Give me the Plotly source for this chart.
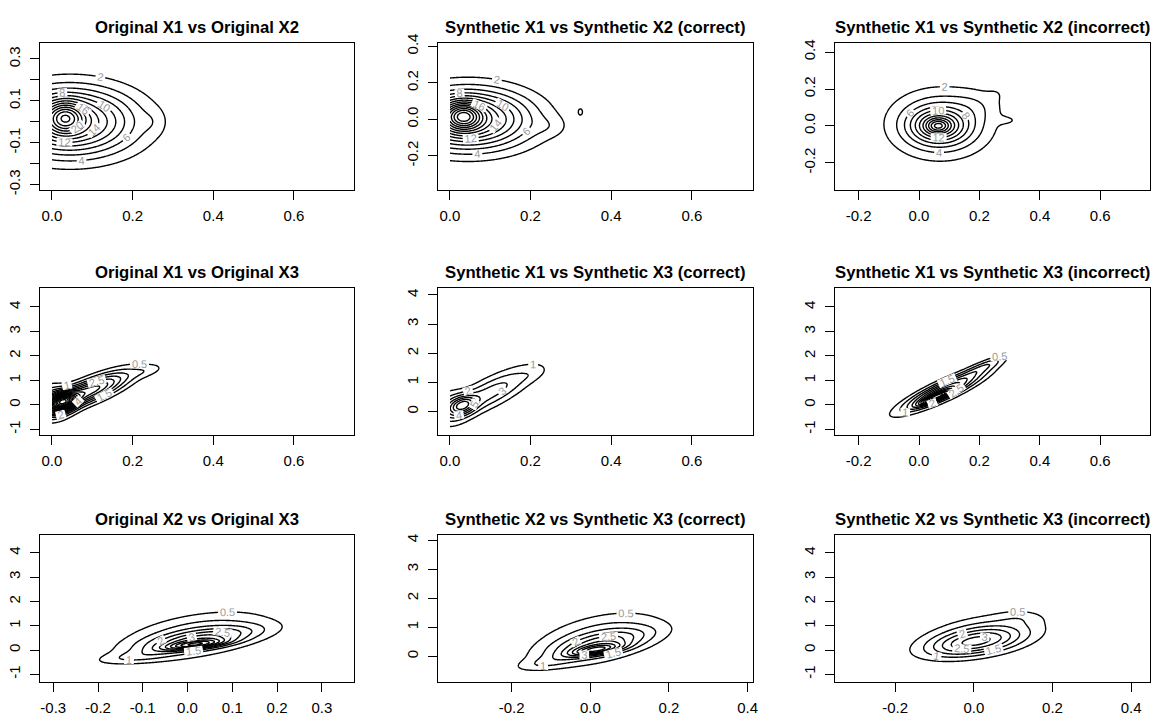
import numpy as np
import plotly.graph_objects as go

titles = [
    "Original X1 vs Original X2", "Synthetic X1 vs Synthetic X2 (correct)", "Synthetic X1 vs Synthetic X2 (incorrect)",
    "Original X1 vs Original X3", "Synthetic X1 vs Synthetic X3 (correct)", "Synthetic X1 vs Synthetic X3 (incorrect)",
    "Original X2 vs Original X3", "Synthetic X2 vs Synthetic X3 (correct)", "Synthetic X2 vs Synthetic X3 (incorrect)",
]

# density bumps: (height, x centre, y centre, x spread, y spread, correlation)
p1_bumps = [(10, 0.032, 0.020, 0.030, 0.050, 0.0), (17, 0.045, 0.000, 0.110, 0.110, 0.0),
            (1.0, 0.250, 0.000, 0.020, 0.040, 0.0)]
p2_bumps = [(12, 0.033, 0.018, 0.030, 0.050, 0.0), (18, 0.045, 0.000, 0.105, 0.110, 0.0),
            (1.3, 0.250, -0.040, 0.030, 0.040, 0.0), (2.15, 0.324, 0.041, 0.006, 0.020, 0.0)]
p3_bumps = [(6, 0.063, 0.000, 0.025, 0.025, 0.0), (9, 0.065, 0.000, 0.060, 0.060, 0.0),
            (8, 0.070, 0.010, 0.110, 0.120, 0.0), (1.5, 0.200, 0.120, 0.060, 0.060, 0.0),
            (1.2, 0.300, 0.030, 0.030, 0.020, 0.0), (0.8, 0.260, 0.180, 0.025, 0.030, 0.0)]
p4_bumps = [(5, 0.028, 0.13, 0.022, 0.25, 0.3), (3.8, 0.090, 0.55, 0.070, 0.55, 0.8),
            (2.0, 0.000, 0.10, 0.030, 0.45, 0.0), (0.5, 0.240, 1.40, 0.030, 0.20, 0.5)]
p5_bumps = [(4.5, 0.033, 0.22, 0.022, 0.22, 0.3), (3.5, 0.100, 0.65, 0.075, 0.60, 0.8),
            (2.0, 0.000, 0.15, 0.030, 0.40, 0.0), (0.5, 0.210, 1.30, 0.025, 0.20, 0.5)]
p6_bumps = [(3.5, 0.057, 0.32, 0.035, 0.20, 0.88), (3.5, 0.080, 0.58, 0.090, 0.55, 0.88),
            (1.0, 0.220, 1.60, 0.050, 0.30, 0.85)]
p7_bumps = [(2.6, 0.018, 0.22, 0.045, 0.14, 0.6), (1.8, 0.030, 0.45, 0.085, 0.33, 0.65),
            (1.5, 0.020, 0.60, 0.110, 0.65, 0.45), (0.7, -0.120, -0.30, 0.060, 0.20, 0.5)]
p8_bumps = [(2.5, 0.015, 0.22, 0.045, 0.14, 0.6), (1.6, 0.030, 0.45, 0.085, 0.33, 0.65),
            (1.4, 0.020, 0.60, 0.110, 0.62, 0.45), (0.6, -0.120, -0.25, 0.050, 0.18, 0.5)]
p9_bumps = [(2.0, 0.000, 0.30, 0.080, 0.38, 0.45), (1.4, 0.020, 0.60, 0.100, 0.58, 0.4),
            (0.35, 0.120, 1.35, 0.040, 0.20, 0.0)]
panel_bumps = [p1_bumps, p2_bumps, p3_bumps, p4_bumps, p5_bumps, p6_bumps, p7_bumps, p8_bumps, p9_bumps]

contour_step = [2, 2, 2, 0.5, 1, 0.5, 0.5, 0.5, 0.5]

# extent of the estimated density grid (data range)
kde_x_lims = [(0.0, 0.72), (0.0, 0.72), (-0.24, 0.72), (0.0, 0.72), (0.0, 0.72), (-0.24, 0.72),
              (-0.3, 0.35), (-0.36, 0.40), (-0.33, 0.43)]
kde_y_lims = [(-0.33, 0.37), (-0.38, 0.41), (-0.34, 0.44), (-1.2, 4.7), (-0.8, 4.2), (-1.2, 4.7),
              (-1.3, 4.7), (-0.88, 4.19), (-1.3, 4.7)]

x_axis_range = [(-0.03, 0.75), (-0.029, 0.751), (-0.277, 0.765), (-0.03, 0.75), (-0.029, 0.751), (-0.277, 0.765),
                (-0.33, 0.373), (-0.387, 0.413), (-0.352, 0.448)]
y_axis_range = [(-0.327, 0.375), (-0.3875, 0.416), (-0.349, 0.448), (-1.23, 4.77), (-0.807, 4.235), (-1.23, 4.77),
                (-1.31, 4.74), (-0.88, 4.19), (-1.31, 4.74)]

x_ticks_a = [0.0, 0.2, 0.4, 0.6]
x_ticks_b = [-0.2, 0.0, 0.2, 0.4, 0.6]
x_ticks_c = [-0.3, -0.2, -0.1, 0.0, 0.1, 0.2, 0.3]
x_ticks_d = [-0.2, 0.0, 0.2, 0.4]
x_tick_values = [x_ticks_a, x_ticks_a, x_ticks_b, x_ticks_a, x_ticks_a, x_ticks_b, x_ticks_c, x_ticks_d, x_ticks_d]

y_ticks_p1 = [-0.3, -0.2, -0.1, 0.0, 0.1, 0.2, 0.3]
y_labels_p1 = ["-0.3", "", "-0.1", "", "0.1", "", "0.3"]
y_ticks_small = [-0.2, 0.0, 0.2, 0.4]
y_ticks_wide = [-1, 0, 1, 2, 3, 4]
y_ticks_pos = [0, 1, 2, 3, 4]
y_tick_values = [y_ticks_p1, y_ticks_small, y_ticks_small, y_ticks_wide, y_ticks_pos, y_ticks_wide,
                 y_ticks_wide, y_ticks_pos, y_ticks_wide]

# ---------------- layout geometry (pixels) ----------------
W, H = 1164, 726
col_left = [40, 440, 839]
col_right = [356, 756, 1155]
row_top = [34, 284, 536]
row_bottom = [184, 434, 686]

FONT = "Liberation Sans, Arial, Helvetica, sans-serif"


def density(bumps, xs, ys):
    X, Y = np.meshgrid(xs, ys)
    Z = np.zeros_like(X)
    for h, mx, my, sx, sy, r in bumps:
        a = (X - mx) / sx
        b = (Y - my) / sy
        q = (a * a - 2 * r * a * b + b * b) / (1 - r * r)
        Z += h * np.exp(-0.5 * q)
    return Z


def fmt(v):
    s = f"{v:.1f}"
    return "0.0" if s == "-0.0" else s


fig = go.Figure()
annotations = []
for i in range(9):
    r, c = divmod(i, 3)
    k = i + 1
    xs = np.linspace(*kde_x_lims[i], 280)
    ys = np.linspace(*kde_y_lims[i], 280)
    Z = density(panel_bumps[i], xs, ys)
    step = contour_step[i]
    fig.add_trace(go.Contour(
        x=xs, y=ys, z=Z,
        xaxis=f"x{k}", yaxis=f"y{k}",
        autocontour=False,
        contours=dict(start=step, end=float(Z.max()), size=step, coloring="none",
                      showlabels=True, labelfont=dict(family=FONT, size=11, color="#9a9a9a")),
        line=dict(color="black", width=1.4, smoothing=1.0),
        showscale=False, hoverinfo="skip",
    ))
    xd = [col_left[c] / W, col_right[c] / W]
    yd = [1 - row_bottom[r] / H, 1 - row_top[r] / H]
    xt = x_tick_values[i]
    yt = y_tick_values[i]
    if i == 0:
        ytxt = y_labels_p1
    elif isinstance(yt[0], int):
        ytxt = [str(v) for v in yt]
    else:
        ytxt = [fmt(v) for v in yt]
    axcommon = dict(showgrid=False, zeroline=False, showline=True, mirror=True, linecolor="black",
                    linewidth=1, ticks="outside", ticklen=9, tickwidth=1, tickcolor="black",
                    tickfont=dict(family=FONT, size=15, color="black"))
    fig.layout[f"xaxis{k}"] = dict(domain=xd, anchor=f"y{k}", range=list(x_axis_range[i]),
                                   tickvals=xt, ticktext=[fmt(v) for v in xt], ticklabelstandoff=3, **axcommon)
    fig.layout[f"yaxis{k}"] = dict(domain=yd, anchor=f"x{k}", range=list(y_axis_range[i]),
                                   tickvals=yt, ticktext=ytxt, tickangle=-90, ticklabelstandoff=4, **axcommon)
    annotations.append(dict(text=f"<b>{titles[i]}</b>", xref="paper", yref="paper",
                            x=(col_left[c] + col_right[c]) / 2 / W, y=1 - (row_top[r] - 16) / H,
                            xanchor="center", yanchor="middle", showarrow=False,
                            font=dict(family=FONT, size=16.7, color="black")))

fig.update_layout(width=W, height=H, margin=dict(l=0, r=0, t=0, b=0), paper_bgcolor="white",
                  plot_bgcolor="white", showlegend=False, annotations=annotations)
fig.write_html("out.html")
